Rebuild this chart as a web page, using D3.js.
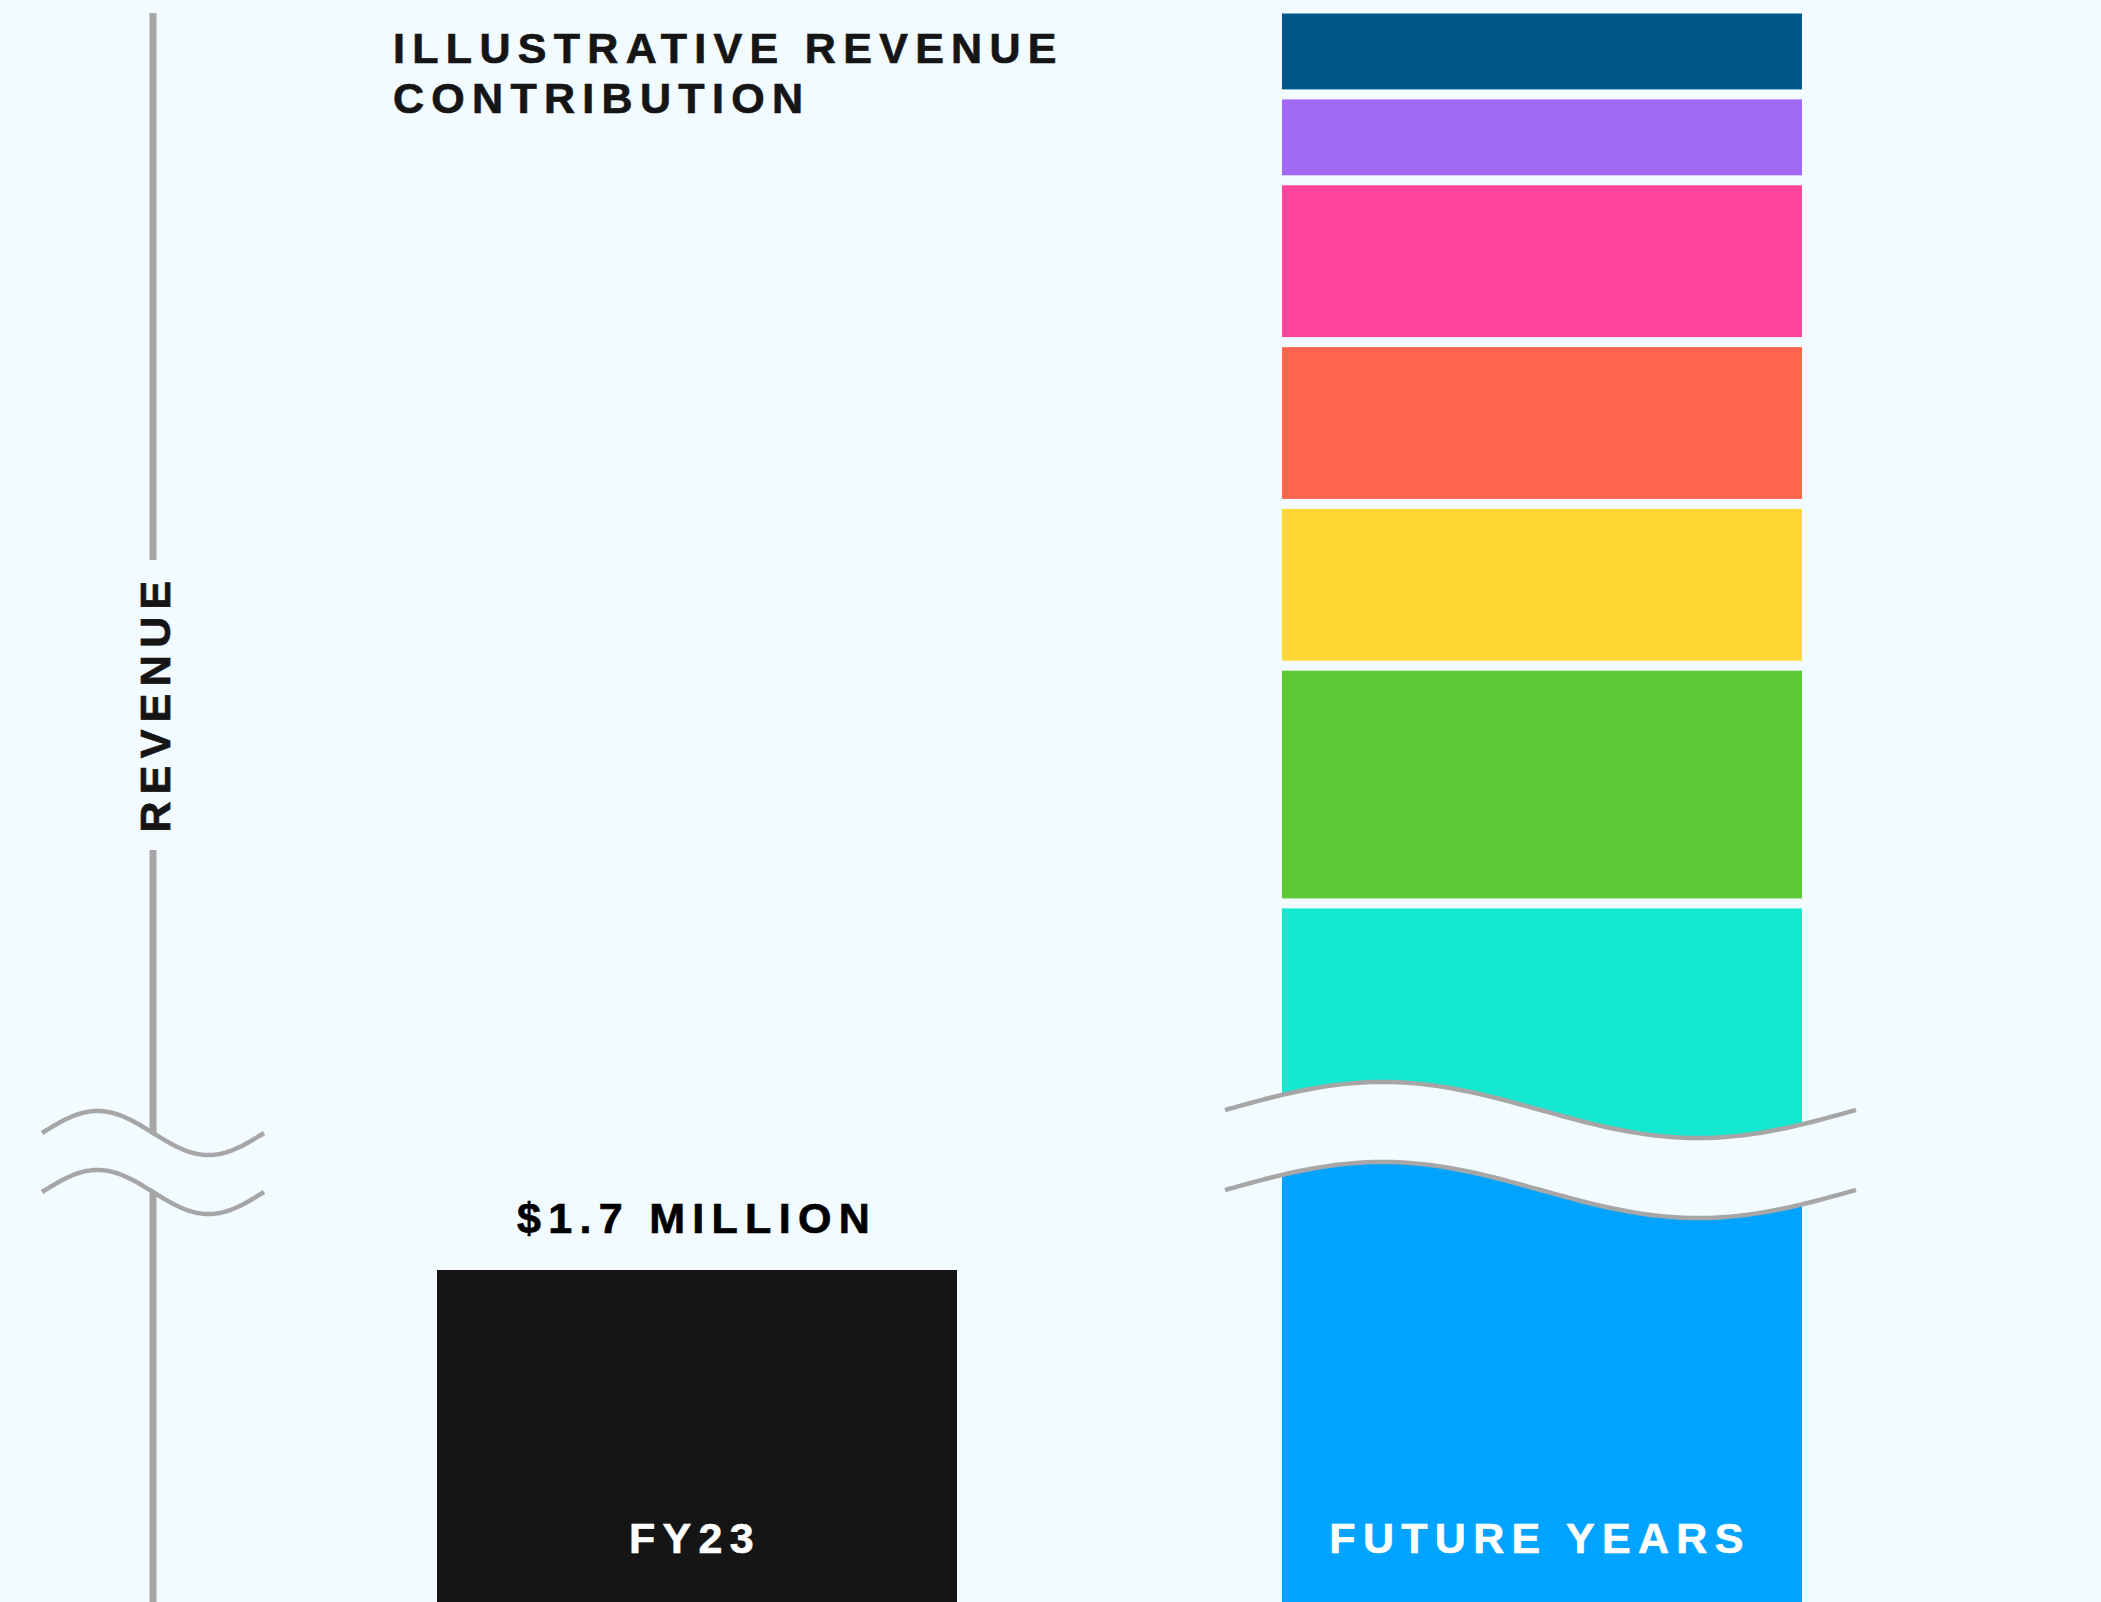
<!DOCTYPE html>
<html>
<head>
<meta charset="utf-8">
<script src="https://cdn.jsdelivr.net/npm/d3@7"></script>
<style>
  html, body { margin: 0; padding: 0; background: #F2FBFF; overflow: hidden; }
  svg { display: block; }
  text { font-family: "Liberation Sans", Arial, Helvetica, sans-serif; font-weight: bold; }
</style>
</head>
<body>
<div id="chart"></div>
<script>
// ---- data ----
const categories = ["FY23", "FUTURE YEARS"];
const fy23Value = 1.7;                 // $ million
const fy23ValueLabel = "$1.7 MILLION";
const titleLines = ["ILLUSTRATIVE REVENUE", "CONTRIBUTION"];
const axisLabel = "REVENUE";
// future-years stack, top to bottom, illustrative units
const futureKeys = ["s8", "s7", "s6", "s5", "s4", "s3", "s2", "s1"];
const futureValues = [0.5, 0.5, 1, 1, 1, 1.5, 1.5, 3.5];
const futureColors = ["#02578A", "#A168F3", "#FF449E", "#FF644F", "#FFD833", "#5BCA34", "#15E8D1", "#00A3FF"];

// ---- layout ----
const W = 2101, H = 1602;
const BG = "#F2FBFF", GRAY = "#A6A6A6", DARK = "#151515";
const LS = 7.3; // letter spacing

const svg = d3.select("#chart").append("svg")
  .attr("width", W).attr("height", H)
  .style("background", BG);

const x = d3.scaleBand().domain(categories).range([437, 1802]).paddingInner(0.3846).paddingOuter(0);
const yLow = d3.scaleLinear().domain([0, fy23Value]).range([H, 1270]);
const yUp = d3.scaleLinear().domain([0, 1]).range([13.5, 13.5 + 151.8]);
const gap = 10;

// axis line
const axisX = 153;
svg.append("line")
  .attr("x1", axisX).attr("x2", axisX).attr("y1", 13).attr("y2", H)
  .attr("stroke", GRAY).attr("stroke-width", 7);

// FY23 bar
svg.append("rect")
  .attr("x", x("FY23")).attr("width", x.bandwidth())
  .attr("y", yLow(fy23Value)).attr("height", yLow(0) - yLow(fy23Value))
  .attr("fill", DARK);

svg.append("text")
  .attr("x", x("FY23") + x.bandwidth() / 2)
  .attr("y", yLow(fy23Value) - 37)
  .attr("text-anchor", "middle")
  .attr("font-size", 43).attr("letter-spacing", LS)
  .attr("fill", "#000").attr("stroke", "#000").attr("stroke-width", 0.7)
  .text(fy23ValueLabel);

// Future stack
let cum = 0;
const segs = futureValues.map((v, i) => {
  const s = { key: futureKeys[i], y0: yUp(cum) + i * gap, y1: yUp(cum + v) + i * gap, color: futureColors[i] };
  cum += v;
  return s;
});
svg.append("g").selectAll("rect").data(segs).join("rect")
  .attr("x", x("FUTURE YEARS")).attr("width", x.bandwidth())
  .attr("y", d => d.y0).attr("height", d => d.y1 - d.y0)
  .attr("fill", d => d.color);

// category labels inside bars
svg.append("g").selectAll("text").data(categories).join("text")
  .attr("x", d => x(d) + x.bandwidth() / 2 - 2)
  .attr("y", 1553)
  .attr("text-anchor", "middle")
  .attr("font-size", 43).attr("letter-spacing", LS)
  .attr("fill", "#fff").attr("stroke", "#fff").attr("stroke-width", 0.6)
  .text(d => d);

// break marks
function wave(x0, x1, yc, amp, n = 80) {
  return d3.range(n + 1).map(i => {
    const t = i / n;
    return [x0 + t * (x1 - x0), yc - amp * Math.sin(2 * Math.PI * t)];
  });
}
function drawBreak(x0, x1, yTop, yBot, amp) {
  const up = wave(x0, x1, yTop, amp), dn = wave(x0, x1, yBot, amp);
  const line = d3.line();
  svg.append("path")
    .attr("d", line(up.concat(dn.slice().reverse())) + "Z")
    .attr("fill", BG);
  [up, dn].forEach(pts => svg.append("path")
    .attr("d", line(pts)).attr("fill", "none")
    .attr("stroke", GRAY).attr("stroke-width", 4.5));
}
drawBreak(42, 264, 1133, 1192, 22);
drawBreak(1225, 1856, 1110, 1190, 28);

// axis label
svg.append("rect").attr("x", 128).attr("y", 560).attr("width", 50).attr("height", 290).attr("fill", BG);
svg.append("text")
  .attr("transform", `translate(170,703) rotate(-90)`)
  .attr("text-anchor", "middle")
  .attr("font-size", 43).attr("letter-spacing", LS)
  .attr("fill", DARK).attr("stroke", DARK).attr("stroke-width", 0.7)
  .text(axisLabel);

// title
svg.append("g").selectAll("text").data(titleLines).join("text")
  .attr("x", 393).attr("y", (d, i) => 63 + i * 50)
  .attr("font-size", 43).attr("letter-spacing", LS)
  .attr("fill", DARK).attr("stroke", DARK).attr("stroke-width", 0.7)
  .text(d => d);
</script>
</body>
</html>
